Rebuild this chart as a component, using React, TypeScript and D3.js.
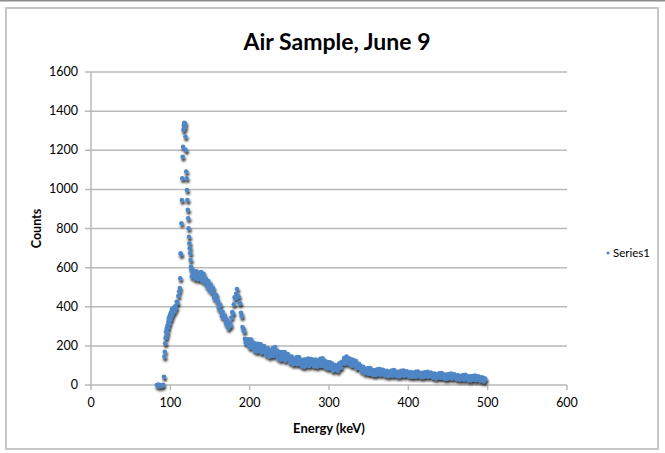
import React from "react";
import * as d3 from "d3";

const chartTitle = "Air Sample, June 9";
const xTitle = "Energy (keV)";
const yTitle = "Counts";
const seriesName = "Series1";

const xTicks = [0, 100, 200, 300, 400, 500, 600];
const yTicks = [0, 200, 400, 600, 800, 1000, 1200, 1400, 1600];

// low end + photopeak, read point by point (keV)
const peakEnergy = [
  83, 84, 85, 86, 87, 88, 89, 90, 91, 92, 92.5, 93, 93.5, 94, 94.5, 95, 95.5,
  96, 96.5, 97, 97.5, 98, 98.5, 99, 99.5, 100, 100.5, 101, 101.5, 102, 103,
  104, 105, 106, 107, 108, 109, 110, 111, 112, 112.5, 113, 113.5, 114, 114.5,
  115, 115.5, 116, 116.5, 117, 117.5, 118, 118.5, 119, 119.5, 120, 120.5, 121,
  121.5, 122, 122.5, 123, 123.5, 124, 124.5, 125, 125.5, 126, 126.5, 127, 127.5,
];
const peakCounts = [
  0, -4, 2, -6, -2, 0, -5, -3, 1, 42, 145, 170, 213, 240, 272, 250, 290,
  268, 305, 292, 322, 340, 312, 350, 330, 362, 338, 372, 352, 388, 365,
  395, 376, 402, 392, 425, 420, 455, 478, 496, 545, 673, 668, 827, 946,
  1057, 1167, 1218, 1304, 1325, 1340, 1318, 1338, 1270, 1201, 1091, 1057, 997,
  946, 895, 852, 801, 758, 724, 699, 673, 639, 605, 588, 555, 580,
];

// rest of the spectrum, one channel per keV from 128 keV
const tailStart = 128;
const tailCounts = [
  587, 561, 577, 545, 567, 581, 553, 541, 573, 563,
  554, 578, 535, 554, 568, 526, 536, 543, 505, 528,
  532, 488, 506, 514, 476, 476, 494, 446, 464, 440,
  460, 425, 432, 391, 404, 409, 372, 351, 374, 355,
  342, 354, 314, 322, 329, 291, 300, 318, 304, 345,
  373, 367, 413, 448, 444, 466, 491, 449, 453, 420,
  418, 369, 352, 296, 287, 275, 236, 216, 234, 220,
  208, 234, 194, 215, 232, 192, 204, 214, 178, 204,
  210, 172, 196, 210, 178, 184, 208, 166, 190, 172,
  199, 172, 187, 154, 175, 188, 159, 146, 177, 166,
  159, 187, 150, 174, 194, 154, 165, 174, 137, 162,
  168, 130, 155, 169, 138, 144, 169, 127, 152, 134,
  158, 133, 146, 116, 135, 145, 119, 107, 134, 124,
  118, 142, 107, 126, 143, 107, 119, 129, 97, 121,
  129, 95, 119, 132, 105, 111, 135, 98, 121, 107,
  133, 110, 125, 97, 117, 130, 105, 95, 124, 115,
  109, 134, 99, 120, 136, 100, 112, 123, 91, 115,
  117, 86, 105, 116, 89, 92, 110, 75, 94, 80,
  102, 81, 96, 73, 95, 111, 93, 89, 118, 114,
  113, 138, 110, 130, 146, 117, 128, 137, 107, 128,
  132, 100, 118, 128, 101, 104, 122, 87, 105, 89,
  107, 87, 96, 72, 85, 93, 72, 61, 82, 73,
  67, 86, 58, 74, 87, 59, 69, 76, 53, 71,
  77, 52, 69, 80, 59, 65, 82, 54, 72, 61,
  78, 61, 71, 50, 64, 73, 54, 46, 67, 61,
  56, 74, 49, 64, 76, 51, 60, 68, 46, 64,
  68, 45, 62, 72, 51, 57, 74, 48, 65, 54,
  70, 55, 64, 45, 57, 66, 49, 42, 61, 55,
  50, 67, 44, 58, 69, 47, 55, 61, 41, 58,
  62, 41, 56, 65, 47, 52, 67, 43, 58, 48,
  64, 49, 57, 38, 51, 59, 42, 35, 53, 47,
  43, 60, 37, 50, 61, 39, 47, 54, 33, 50,
  53, 32, 47, 56, 38, 43, 58, 34, 49, 40,
  55, 41, 49, 31, 43, 50, 35, 28, 45, 39,
  36, 51, 29, 41, 52, 31, 38, 44, 25, 40,
  45, 25, 38, 46, 30, 34, 48, 26, 40, 31,
  45, 32, 39, 23, 33, 40, 26, 19, 34, 30,
];

const W = 665;
const H = 453;
const font = "Lato, 'Open Sans', sans-serif";
const blue = "#4f86c6";
const grid = "#b9b9b9";

export default function App() {
  const x = d3.scaleLinear().domain([0, 600]).range([91, 567]);
  const y = d3.scaleLinear().domain([0, 1600]).range([385, 72]);

  const points: [number, number][] = [
    ...peakEnergy.map((e, i) => [e, peakCounts[i]] as [number, number]),
    ...tailCounts.map((c, i) => [tailStart + i, c] as [number, number]),
  ];

  return (
    <svg width={W} height={H} style={{ position: "absolute", left: 0, top: 0 }}>
      <defs>
        <filter id="shadow" x="-5%" y="-5%" width="110%" height="115%">
          <feDropShadow dx="1" dy="2.5" stdDeviation="1.1" floodColor="#000" floodOpacity="0.8" />
        </filter>
      </defs>
      <rect width={W} height={H} fill="#fff" />
      <line x1={0} x2={W} y1={0.5} y2={0.5} stroke="#8c8c8c" strokeWidth={2} />
      <rect x={6} y={8} width={652} height={441} fill="none" stroke="#c6c6c6" strokeWidth={2} />

      <text x={337} y={50} textAnchor="middle" fontFamily={font} fontWeight="bold" fontSize={23} fill="#000">
        {chartTitle}
      </text>

      {/* gridlines */}
      {yTicks.map((t) => (
        <g key={t}>
          <line x1={85} x2={567} y1={y(t)} y2={y(t)} stroke={grid} strokeWidth={1.5} />
          <text x={78} y={y(t) + 4} textAnchor="end" fontFamily={font} fontSize={12.5} fill="#000">
            {t}
          </text>
        </g>
      ))}
      <line x1={x(0)} x2={x(0)} y1={y(1600)} y2={y(0)} stroke={grid} strokeWidth={1.5} />
      {xTicks.map((t) => (
        <g key={t}>
          <line x1={x(t)} x2={x(t)} y1={y(0)} y2={y(0) + 5} stroke={grid} strokeWidth={1.5} />
          <text x={x(t)} y={407} textAnchor="middle" fontFamily={font} fontSize={12.5} fill="#000">
            {t}
          </text>
        </g>
      ))}

      <text x={329} y={433} textAnchor="middle" fontFamily={font} fontWeight="bold" fontSize={13} fill="#000">
        {xTitle}
      </text>
      <text
        transform={`translate(41,${(y(0) + y(1600)) / 2}) rotate(-90)`}
        textAnchor="middle"
        fontFamily={font}
        fontWeight="bold"
        fontSize={12.5}
        fill="#000"
      >
        {yTitle}
      </text>

      <g filter="url(#shadow)">
        {points.map(([e, c], i) => (
          <circle key={i} cx={x(e)} cy={y(c)} r={2.3} fill={blue} />
        ))}
      </g>

      {/* legend */}
      <circle cx={608} cy={253} r={1.6} fill={blue} />
      <text x={613} y={257} fontFamily={font} fontSize={11.5} fill="#000">
        {seriesName}
      </text>
    </svg>
  );
}
